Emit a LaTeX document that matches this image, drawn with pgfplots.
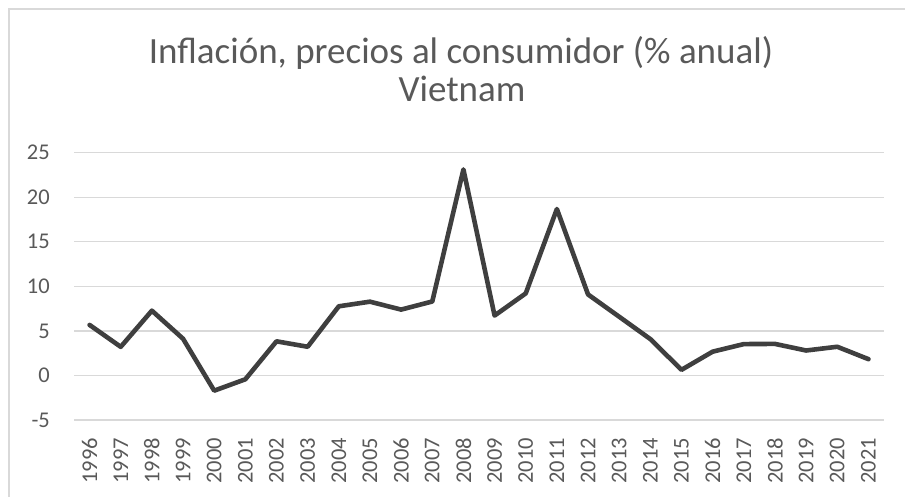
\documentclass[border=0pt]{standalone}
\usepackage{pgfplots}
\pgfplotsset{compat=1.18}
\usepackage{fontspec}
\setmainfont{Carlito}
\definecolor{txt}{HTML}{595959}
\definecolor{gridc}{HTML}{D9D9D9}
\definecolor{linec}{HTML}{3F3F3F}
\begin{document}
\begin{tikzpicture}
\useasboundingbox (0pt,0pt) rectangle (905pt,497pt);
\draw[gridc, line width=1.3pt] (9pt,-2pt) -- (9pt,488pt) -- (907pt,488pt);
\node[anchor=base, text=txt, inner sep=0pt, font=\fontsize{37}{44}\selectfont] at (461pt,433pt) {Inflación, precios al consumidor (\% anual)};
\node[anchor=base, text=txt, inner sep=0pt, font=\fontsize{37}{44}\selectfont] at (462pt,395.3pt) {Vietnam};
\begin{axis}[
  at={(74pt,77pt)}, anchor=south west, scale only axis,
  width=810pt, height=267.3pt,
  xmin=1995.5, xmax=2021.5, ymin=-5, ymax=25,
  ytick={-5,0,5,10,15,20,25},
  yticklabels={-5,0,5,10,15,20,25},
  xtick={1996,1997,1998,1999,2000,2001,2002,2003,2004,2005,2006,2007,2008,2009,2010,2011,2012,2013,2014,2015,2016,2017,2018,2019,2020,2021},
  xticklabels={1996,1997,1998,1999,2000,2001,2002,2003,2004,2005,2006,2007,2008,2009,2010,2011,2012,2013,2014,2015,2016,2017,2018,2019,2020,2021},
  axis line style={draw=none},
  major tick length=0pt,
  ymajorgrids,
  grid style={gridc, line width=1.3pt},
  tick label style={font=\fontsize{22.5}{27}\selectfont, text=txt},
  yticklabel style={anchor=east, inner sep=0pt},
  yticklabel shift=24pt,
  xticklabel style={rotate=90, anchor=east, inner sep=0pt},
  xticklabel shift=18pt,
  clip=false,
]
\addplot[linec, line width=4.6pt, line join=round, line cap=round] coordinates {
(1996,5.67) (1997,3.21) (1998,7.27) (1999,4.12) (2000,-1.71) (2001,-0.43)
(2002,3.83) (2003,3.22) (2004,7.76) (2005,8.28) (2006,7.39) (2007,8.30)
(2008,23.12) (2009,6.72) (2010,9.21) (2011,18.68) (2012,9.09) (2013,6.59)
(2014,4.08) (2015,0.63) (2016,2.67) (2017,3.52) (2018,3.54) (2019,2.80)
(2020,3.22) (2021,1.83)
};
\end{axis}
\end{tikzpicture}
\end{document}
